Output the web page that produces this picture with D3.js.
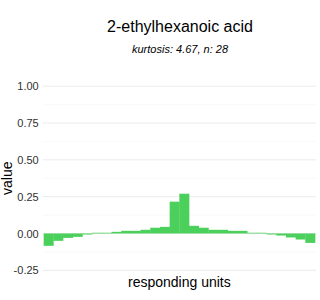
<!DOCTYPE html>
<html>
<head>
<meta charset="utf-8">
<script src="https://cdn.jsdelivr.net/npm/d3@7"></script>
<style>
  body { margin: 0; background: #fff; }
  text { font-family: "Liberation Sans", Arial, sans-serif; }
</style>
</head>
<body>
<div id="chart"></div>
<script>
var units = d3.range(1, 29);
var values = [-0.084, -0.05, -0.03, -0.023, -0.007, 0.005, 0.005, 0.011, 0.018, 0.018,
  0.025, 0.039, 0.045, 0.216, 0.27, 0.052, 0.039, 0.025, 0.025, 0.018,
  0.018, 0.005, 0.005, -0.007, -0.014, -0.027, -0.041, -0.064];
var yTicks = [-0.25, 0, 0.25, 0.5, 0.75, 1];
var yMinor = [-0.125, 0.125, 0.375, 0.625, 0.875];

var svgWidth = 320, svgHeight = 300;
var margin = { top: 77, right: 4, bottom: 20.5, left: 42.7 };
var width = svgWidth - margin.left - margin.right;
var height = svgHeight - margin.top - margin.bottom;

var svg = d3.select("#chart").append("svg")
  .attr("width", svgWidth)
  .attr("height", svgHeight);
var chart = svg.append("g")
  .attr("transform", `translate(${margin.left}, ${margin.top})`);

// discrete axis with ggplot style 0.6 expansion
var scaleX = d3.scaleLinear().domain([0.4, 28.6]).range([0, width]);
var scaleY = d3.scaleLinear().domain([-0.3125, 1.0625]).range([height, 0]);

chart.selectAll(".minor").data(yMinor).enter().append("line")
  .attr("x1", 0).attr("x2", width)
  .attr("y1", d => scaleY(d)).attr("y2", d => scaleY(d))
  .attr("stroke", "#f5f5f5").attr("stroke-width", 0.6);
chart.selectAll(".major").data(yTicks).enter().append("line")
  .attr("x1", 0).attr("x2", width)
  .attr("y1", d => scaleY(d)).attr("y2", d => scaleY(d))
  .attr("stroke", "#ebebeb").attr("stroke-width", 1);

chart.selectAll("rect").data(values).enter().append("rect")
  .attr("x", (d, i) => scaleX(units[i] - 0.5))
  .attr("width", scaleX(1) - scaleX(0) + 0.3)
  .attr("y", d => scaleY(Math.max(0, d)))
  .attr("height", d => Math.abs(scaleY(d) - scaleY(0)))
  .attr("fill", "#4bd05b");

var yaxis = d3.axisLeft(scaleY).tickValues(yTicks).tickSize(0).tickPadding(4)
  .tickFormat(d3.format(".2f"));
var chartLeft = chart.append("g").call(yaxis);
chartLeft.select(".domain").remove();
chartLeft.selectAll("text")
  .attr("fill", "#303030")
  .style("font-size", "11px")
  .text(d => d3.format(".2f")(d).replace("−", "-"));

svg.append("text")
  .attr("x", 180).attr("y", 32)
  .attr("text-anchor", "middle")
  .style("font-size", "16px")
  .attr("fill", "#000")
  .text("2-ethylhexanoic acid");
svg.append("text")
  .attr("x", 180).attr("y", 53)
  .attr("text-anchor", "middle")
  .style("font-size", "11px")
  .style("font-style", "italic")
  .attr("fill", "#000")
  .text("kurtosis: 4.67, n: 28");

svg.append("text")
  .attr("x", margin.left + width / 2).attr("y", 287)
  .attr("text-anchor", "middle")
  .style("font-size", "14px")
  .text("responding units");
svg.append("text")
  .attr("transform", `translate(12, ${margin.top + height / 2}) rotate(-90)`)
  .attr("text-anchor", "middle")
  .style("font-size", "14px")
  .text("value");
</script>
</body>
</html>
